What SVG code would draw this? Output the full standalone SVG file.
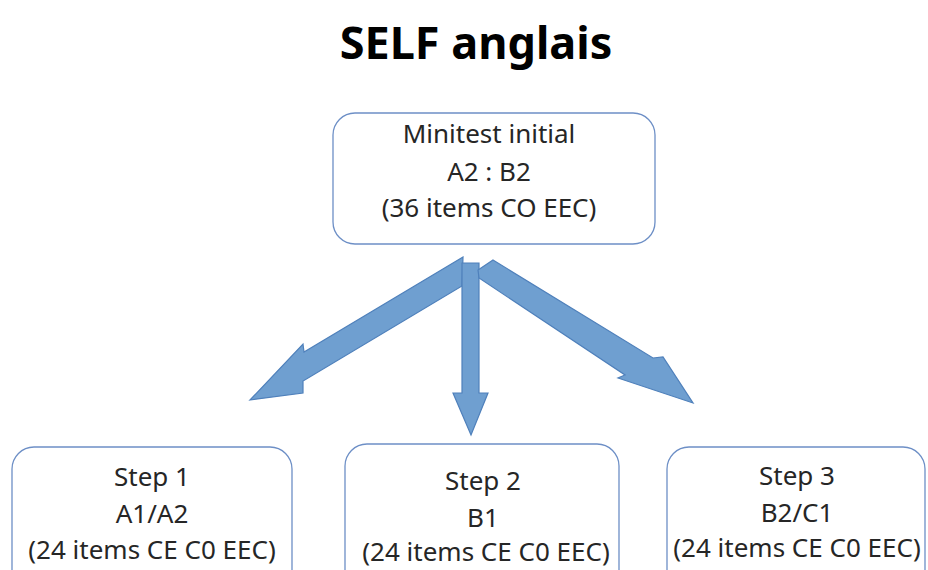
<svg xmlns="http://www.w3.org/2000/svg" width="928" height="570" viewBox="0 0 928 570">
<style>
.box{fill:#fff;stroke:#6d8fc6;stroke-width:1.3}
.t{font-family:"Noto Sans","Open Sans",sans-serif;font-size:26px;fill:#262626;text-anchor:middle}
.title{font-family:"Noto Sans","Open Sans",sans-serif;font-size:45px;font-weight:bold;fill:#000;text-anchor:middle}
.arr{fill:#6f9fd0;stroke:#4f80bb;stroke-width:1.2;stroke-linejoin:miter}
</style>
<rect width="928" height="570" fill="#fff"/>
<text class="title" x="476" y="59">SELF anglais</text>
<g id="minitest">
<rect class="box" x="333" y="113" width="322" height="131" rx="22"/>
<text class="t" x="489" y="143">Minitest initial</text>
<text class="t" x="489" y="181">A2 : B2</text>
<text class="t" x="489" y="217">(36 items CO EEC)</text>
</g>
<g id="step1">
<rect class="box" x="12" y="447" width="280" height="160" rx="22"/>
<text class="t" x="152" y="486">Step 1</text>
<text class="t" x="152" y="523">A1/A2</text>
<text class="t" x="152" y="559">(24 items CE C0 EEC)</text>
</g>
<g id="step2">
<rect class="box" x="345" y="444" width="274" height="160" rx="22"/>
<text class="t" x="483" y="490">Step 2</text>
<text class="t" x="483" y="527">B1</text>
<text class="t" x="486" y="561">(24 items CE C0 EEC)</text>
</g>
<g id="step3">
<rect class="box" x="667" y="447" width="258" height="160" rx="22"/>
<text class="t" x="797" y="485">Step 3</text>
<text class="t" x="797" y="522">B2/C1</text>
<text class="t" x="797" y="557">(24 items CE C0 EEC)</text>
</g>
<g id="connectors">
<polygon class="arr" points="463,257 304,352 303,344 250,400 303,393 303,381 462,286"/>
<polygon class="arr" points="462,263 479,263 479,393 488,393 471,435 453,393 462,393"/>
<polygon class="arr" points="493,260 653,358 663,357 693,403 618,378 625,375 479,278 478,270"/>
</g>
</svg>
